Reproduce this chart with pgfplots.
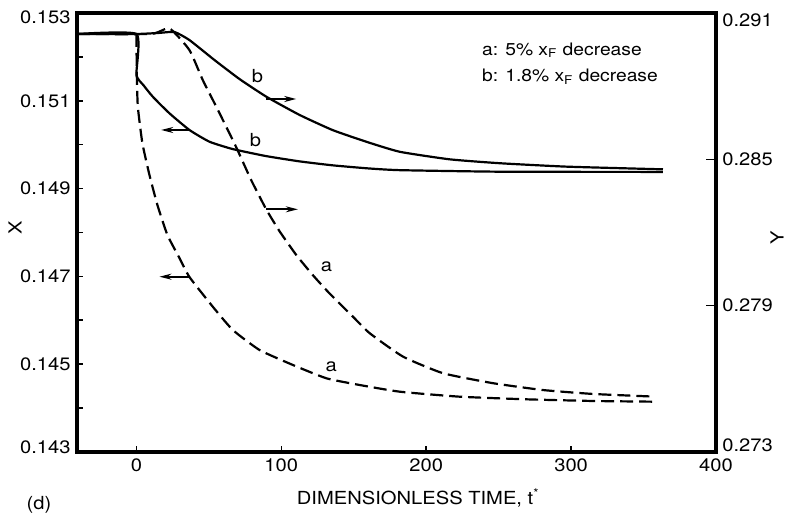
\documentclass[border=0pt]{standalone}
\usepackage{fontspec}
\setmainfont[FakeStretch=1.12]{TeX Gyre Heros}
\usepackage{pgfplots}
\usepackage{pgfplotstable}
\pgfplotsset{compat=1.18}
\usetikzlibrary{arrows.meta,calc}

% X (left axis) responses
\pgfplotstableread{
t X
-41 0.152522
0 0.152522
0 0.151588
5 0.151350
11.3 0.151093
22.8 0.150715
36.6 0.150335
50.4 0.150068
66.5 0.149900
89.6 0.149740
112.6 0.149620
135.4 0.149530
160 0.149460
181.7 0.149420
250.8 0.149385
363.4 0.149380
}\bX
\pgfplotstableread{
t X
0 0.152522
0.3 0.151542
1.0 0.150859
4.1 0.150039
9.0 0.149310
14.5 0.148626
21.4 0.147943
29.7 0.147419
36.6 0.146986
52.7 0.146310
66.5 0.145780
85.0 0.145323
108.0 0.144982
131.1 0.144679
154.1 0.144526
181.7 0.144374
223.1 0.144260
269.2 0.144200
315.2 0.144162
357.8 0.144146
}\aX
% Y (right axis) responses
\pgfplotstableread{
t Y
-41 0.29014
0 0.29014
15 0.29018
26.3 0.29022
36.6 0.28989
53.9 0.28907
71.2 0.28829
89.6 0.28757
112.6 0.28682
135.4 0.28620
158.7 0.28572
181.7 0.28531
216.2 0.28500
250.8 0.28484
296.9 0.28470
363.4 0.28459
}\bY
\pgfplotstableread{
t Y
-41 0.29014
10 0.29014
22.8 0.29037
36.6 0.28948
45.8 0.28825
55.1 0.28716
64.2 0.28607
69.8 0.28538
79.2 0.28415
89.6 0.28295
98.8 0.28205
110.3 0.28108
121.8 0.28025
133.3 0.27950
149.4 0.27855
161.0 0.27787
184.0 0.27691
211.6 0.27623
246.2 0.27582
280.7 0.27554
315.2 0.27538
357.8 0.27527
}\aY

\pgfplotsset{
  common/.style={
    scale only axis, width=319.5pt, height=219.5pt,
    xmin=-41, xmax=400,
    tick align=inside,
    scaled ticks=false,
    /pgf/number format/assume math mode=true,
    tick style={black, line width=0.8pt},
    yticklabel style={/pgf/number format/fixed, /pgf/number format/fixed zerofill, /pgf/number format/precision=3},
  },
}
\tikzset{
  curve/.style={black, line width=1.1pt, smooth, tension=0.3},
  dcurve/.style={black, line width=1.1pt, dash pattern=on 6.5pt off 3pt, smooth, tension=0.3},
  arr/.style={black, line width=0.9pt, -{Stealth[length=6pt,width=3pt]}},
}

\begin{document}
\fontsize{9}{11}\selectfont
\begin{tikzpicture}
\begin{axis}[common,
    xtick={0,100,200,300,400},
    xtick pos=left, ytick pos=left,
    major tick length=3pt, minor tick length=3pt,
    ymin=0.143, ymax=0.153,
    ytick={0.145,0.147,0.149,0.151},
    extra y ticks={0.143,0.153},
    extra y tick style={yticklabel style={yshift={4.7*(\ticknum==0)-2.2}}},
    minor ytick={0.144,0.146,0.148,0.150,0.152},
    xlabel={DIMENSIONLESS TIME, t\textsuperscript{*}},
    xlabel style={at={(axis description cs:0.534,0)}, anchor=north, yshift=-15pt},
]
\addplot[curve] table[x=t, y=X] {\bX};
\addplot[dcurve] table[x=t, y=X] {\aX};
\draw[arr] (axis cs:89.6,0.151041) -- (axis cs:110.3,0.151041);
\draw[arr] (axis cs:36.6,0.150335) -- (axis cs:17.1,0.150335);
\draw[arr] (axis cs:89.6,0.148528) -- (axis cs:111.4,0.148528);
\draw[arr] (axis cs:36.6,0.146993) -- (axis cs:15.9,0.146993);
\node at (axis cs:83.6,0.151565) {b};
\node at (axis cs:82.2,0.150107) {b};
\node at (axis cs:131.1,0.147221) {a};
\node at (axis cs:134.5,0.144943) {a};
\node[anchor=base west, inner sep=0pt, font=\fontsize{8.6}{10}\selectfont] at (axis cs:238.3,0.152043) {a: 5\% x\textsubscript{F} decrease};
\node[anchor=base west, inner sep=0pt, font=\fontsize{8.6}{10}\selectfont] at (axis cs:238.3,0.151435) {b: 1.8\% x\textsubscript{F} decrease};
\coordinate (bl) at (rel axis cs:0,0);
\coordinate (tr) at (rel axis cs:1,1);
\end{axis}
\begin{axis}[common,
    axis x line=none, axis y line*=right,
    ymin=0.273, ymax=0.291,
    ytick={0.279,0.285},
    extra y ticks={0.273,0.291},
    extra y tick style={yticklabel style={yshift={7*(\ticknum==0)-3.5}}},
    major tick length=5pt,
]
\addplot[curve] table[x=t, y=Y] {\bY};
\addplot[dcurve] table[x=t, y=Y] {\aY};
\end{axis}
% heavy frame and outer labels
\draw[black, line width=1.8pt, line cap=rect] (bl) rectangle (tr);
\node[rotate=90] at ($(bl)!0.5!(bl |- tr)+(-31pt,2.2pt)$) {X};
\node[rotate=90] at ($(tr |- bl)!0.5!(tr)+(30.5pt,-2.7pt)$) {Y};
\node at ($(bl)+(-19pt,-26.5pt)$) {(d)};
\pgfresetboundingbox
\path ($(bl)+(-38.5pt,-30.5pt)$) rectangle ($(tr)+(34.5pt,6.5pt)$);
\end{tikzpicture}
\end{document}
